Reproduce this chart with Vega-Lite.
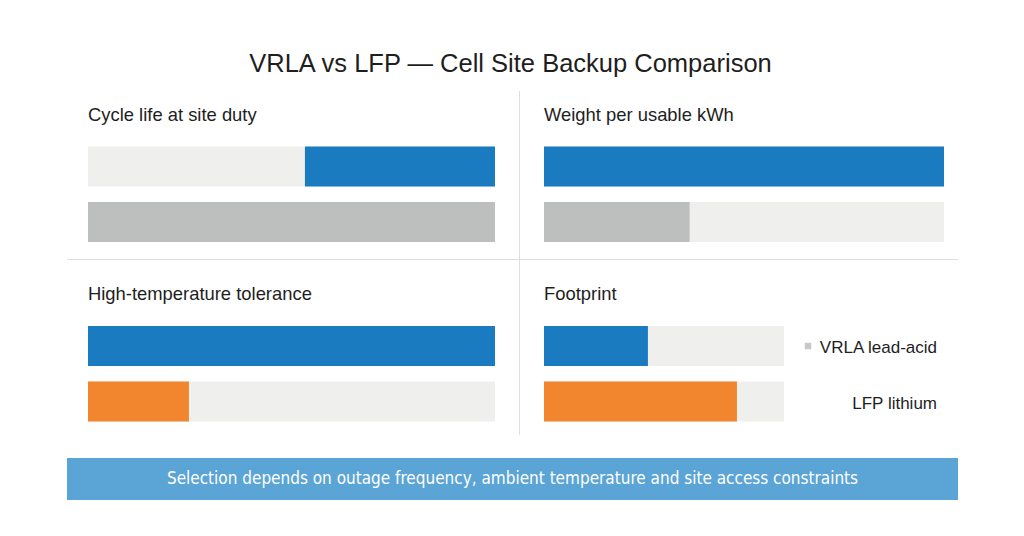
{
  "$schema": "https://vega.github.io/schema/vega-lite/v6.json",
  "background": "white",
  "padding": {"left": 63, "top": 51, "right": 66, "bottom": 36},
  "title": {"text": "VRLA vs LFP — Cell Site Backup Comparison", "fontSize": 25.5, "font": "Liberation Sans", "fontWeight": "normal", "color": "#1e1e1e", "anchor": "middle", "offset": 14},
  "config": {"view": {"stroke": null}, "font": "Liberation Sans"},
  "datasets": {
    "bars": [
      {"panel": "cycle", "series": "VRLA", "lo": 53.3, "hi": 100},
      {"panel": "cycle", "series": "LFP", "lo": 0, "hi": 100},
      {"panel": "weight", "series": "VRLA", "lo": 0, "hi": 100},
      {"panel": "weight", "series": "LFP", "lo": 0, "hi": 36.4},
      {"panel": "temp", "series": "VRLA", "lo": 0, "hi": 100},
      {"panel": "temp", "series": "LFP", "lo": 0, "hi": 24.8},
      {"panel": "footprint", "series": "VRLA", "lo": 0, "hi": 43.3},
      {"panel": "footprint", "series": "LFP", "lo": 0, "hi": 80.4}
    ],
    "headings": [
      {"panel": "cycle", "heading": "Cycle life at site duty"},
      {"panel": "weight", "heading": "Weight per usable kWh"},
      {"panel": "temp", "heading": "High-temperature tolerance"},
      {"panel": "footprint", "heading": "Footprint"}
    ],
    "legend": [
      {"series": "VRLA", "label": "VRLA lead-acid"},
      {"series": "LFP", "label": "LFP lithium"}
    ],
    "note": [{"text": "Selection depends on outage frequency, ambient temperature and site access constraints"}],
    "blank": []
  },
  "spacing": 0,
  "resolve": {"scale": {"color": "independent", "x": "independent", "y": "independent"}},
  "vconcat": [
    {
      "spacing": 24,
      "bounds": "flush",
      "resolve": {"scale": {"color": "independent", "x": "independent", "y": "independent"}},
      "hconcat": [
        {"width": 1, "height": 168, "data": {"name": "blank"}, "mark": {"type": "text"}, "encoding": {"text": {"field": "text"}}},
        {
          "width": 407, "height": 168,
          "layer": [
            {"data": {"name": "bars"}, "transform": [{"filter": "datum.panel == 'cycle'"}],
             "mark": {"type": "bar", "color": "#efefee"},
             "encoding": {
               "y": {"field": "series", "type": "nominal", "axis": null, "scale": {"type": "band", "domain": ["heading", "VRLA", "LFP"], "paddingInner": 0.2793, "paddingOuter": 0.1531, "align": 0}},
               "x": {"datum": 0, "type": "quantitative", "axis": null, "scale": {"domain": [0, 100]}},
               "x2": {"datum": 100}}},
            {"data": {"name": "bars"}, "transform": [{"filter": "datum.panel == 'cycle'"}],
             "mark": {"type": "bar"},
             "encoding": {
               "y": {"field": "series", "type": "nominal"},
               "x": {"field": "lo", "type": "quantitative"},
               "x2": {"field": "hi"},
               "color": {"field": "series", "type": "nominal", "legend": null, "scale": {"domain": ["VRLA", "LFP"], "range": ["#1a7bc1", "#bdbebe"]}}}},
            {"data": {"name": "headings"}, "transform": [{"filter": "datum.panel == 'cycle'"}],
             "mark": {"type": "text", "align": "left", "baseline": "middle", "fontSize": 18.4, "color": "#1e1e1e", "dy": 4},
             "encoding": {"y": {"datum": "heading"}, "x": {"datum": 0}, "text": {"field": "heading"}}}
          ]
        },
        {"width": 1, "height": 168, "data": {"name": "blank"}, "mark": {"type": "text"}, "encoding": {"text": {"field": "text"}}, "view": {"fill": "#dedede", "stroke": null}},
        {
          "width": 400, "height": 168,
          "layer": [
            {"data": {"name": "bars"}, "transform": [{"filter": "datum.panel == 'weight'"}],
             "mark": {"type": "bar", "color": "#efefee"},
             "encoding": {
               "y": {"field": "series", "type": "nominal", "axis": null, "scale": {"type": "band", "domain": ["heading", "VRLA", "LFP"], "paddingInner": 0.2793, "paddingOuter": 0.1531, "align": 0}},
               "x": {"datum": 0, "type": "quantitative", "axis": null, "scale": {"domain": [0, 100]}},
               "x2": {"datum": 100}}},
            {"data": {"name": "bars"}, "transform": [{"filter": "datum.panel == 'weight'"}],
             "mark": {"type": "bar"},
             "encoding": {
               "y": {"field": "series", "type": "nominal"},
               "x": {"field": "lo", "type": "quantitative"},
               "x2": {"field": "hi"},
               "color": {"field": "series", "type": "nominal", "legend": null, "scale": {"domain": ["VRLA", "LFP"], "range": ["#1a7bc1", "#bdbebe"]}}}},
            {"data": {"name": "headings"}, "transform": [{"filter": "datum.panel == 'weight'"}],
             "mark": {"type": "text", "align": "left", "baseline": "middle", "fontSize": 18.4, "color": "#1e1e1e", "dy": 4},
             "encoding": {"y": {"datum": "heading"}, "x": {"datum": 0}, "text": {"field": "heading"}}}
          ]
        }
      ]
    },
    {
      "spacing": 3,
      "bounds": "flush",
      "hconcat": [
        {"width": 1, "height": 1, "data": {"name": "blank"}, "mark": {"type": "text"}, "encoding": {"text": {"field": "text"}}},
        {"width": 891, "height": 1, "data": {"name": "blank"}, "mark": {"type": "text"}, "encoding": {"text": {"field": "text"}}, "view": {"fill": "#dedede", "stroke": null}}
      ]
    },
    {
      "spacing": 24,
      "bounds": "flush",
      "resolve": {"scale": {"color": "independent", "x": "independent", "y": "independent"}},
      "hconcat": [
        {"width": 1, "height": 198, "data": {"name": "blank"}, "mark": {"type": "text"}, "encoding": {"text": {"field": "text"}}},
        {
          "width": 407, "height": 198,
          "layer": [
            {"data": {"name": "bars"}, "transform": [{"filter": "datum.panel == 'temp'"}],
             "mark": {"type": "bar", "color": "#efefee"},
             "encoding": {
               "y": {"field": "series", "type": "nominal", "axis": null, "scale": {"type": "band", "domain": ["heading", "VRLA", "LFP"], "paddingInner": 0.2793, "paddingOuter": 0.4234, "align": 0.2234}},
               "x": {"datum": 0, "type": "quantitative", "axis": null, "scale": {"domain": [0, 100]}},
               "x2": {"datum": 100}}},
            {"data": {"name": "bars"}, "transform": [{"filter": "datum.panel == 'temp'"}],
             "mark": {"type": "bar"},
             "encoding": {
               "y": {"field": "series", "type": "nominal"},
               "x": {"field": "lo", "type": "quantitative"},
               "x2": {"field": "hi"},
               "color": {"field": "series", "type": "nominal", "legend": null, "scale": {"domain": ["VRLA", "LFP"], "range": ["#1a7bc1", "#f2862e"]}}}},
            {"data": {"name": "headings"}, "transform": [{"filter": "datum.panel == 'temp'"}],
             "mark": {"type": "text", "align": "left", "baseline": "middle", "fontSize": 18.4, "color": "#1e1e1e", "dy": 4},
             "encoding": {"y": {"datum": "heading"}, "x": {"datum": 0}, "text": {"field": "heading"}}}
          ]
        },
        {"width": 1, "height": 175, "data": {"name": "blank"}, "mark": {"type": "text"}, "encoding": {"text": {"field": "text"}}, "view": {"fill": "#dedede", "stroke": null}},
        {
          "width": 240, "height": 198,
          "layer": [
            {"data": {"name": "bars"}, "transform": [{"filter": "datum.panel == 'footprint'"}],
             "mark": {"type": "bar", "color": "#efefee"},
             "encoding": {
               "y": {"field": "series", "type": "nominal", "axis": null, "scale": {"type": "band", "domain": ["heading", "VRLA", "LFP"], "paddingInner": 0.2793, "paddingOuter": 0.4234, "align": 0.2234}},
               "x": {"datum": 0, "type": "quantitative", "axis": null, "scale": {"domain": [0, 100]}},
               "x2": {"datum": 100}}},
            {"data": {"name": "bars"}, "transform": [{"filter": "datum.panel == 'footprint'"}],
             "mark": {"type": "bar"},
             "encoding": {
               "y": {"field": "series", "type": "nominal"},
               "x": {"field": "lo", "type": "quantitative"},
               "x2": {"field": "hi"},
               "color": {"field": "series", "type": "nominal", "legend": null, "scale": {"domain": ["VRLA", "LFP"], "range": ["#1a7bc1", "#f2862e"]}}}},
            {"data": {"name": "headings"}, "transform": [{"filter": "datum.panel == 'footprint'"}],
             "mark": {"type": "text", "align": "left", "baseline": "middle", "fontSize": 18.4, "color": "#1e1e1e", "dy": 4},
             "encoding": {"y": {"datum": "heading"}, "x": {"datum": 0}, "text": {"field": "heading"}}}
          ]
        },
        {
          "width": 129, "height": 198,
          "data": {"name": "legend"},
          "layer": [
            {"transform": [{"filter": "datum.series == 'VRLA'"}],
             "mark": {"type": "square", "color": "#c8c8c8", "opacity": 1, "size": 42, "dy": 2},
             "encoding": {
               "y": {"field": "series", "type": "nominal", "axis": null, "scale": {"type": "band", "domain": ["heading", "VRLA", "LFP"], "paddingInner": 0.2793, "paddingOuter": 0.4234, "align": 0.2234}},
               "x": {"datum": 0, "type": "quantitative", "axis": null, "scale": {"domain": [0, 1]}}}},
            {"mark": {"type": "text", "align": "right", "baseline": "middle", "fontSize": 17, "color": "#1e1e1e", "dy": 2},
             "encoding": {
               "y": {"field": "series", "type": "nominal"},
               "x": {"datum": 1, "type": "quantitative"},
               "text": {"field": "label"}}}
          ]
        }
      ]
    },
    {
      "spacing": 3,
      "bounds": "flush",
      "hconcat": [
        {"width": 1, "height": 42, "data": {"name": "blank"}, "mark": {"type": "text"}, "encoding": {"text": {"field": "text"}}},
        {"width": 891, "height": 42, "data": {"name": "note"},
         "mark": {"type": "text", "color": "white", "fontSize": 17, "font": "'Liberation Sans Narrow', 'DejaVu Sans Condensed', 'Liberation Sans', sans-serif", "baseline": "middle", "align": "center"},
         "encoding": {"text": {"field": "text"}},
         "view": {"fill": "#5ba4d6", "stroke": null}}
      ]
    }
  ]
}
